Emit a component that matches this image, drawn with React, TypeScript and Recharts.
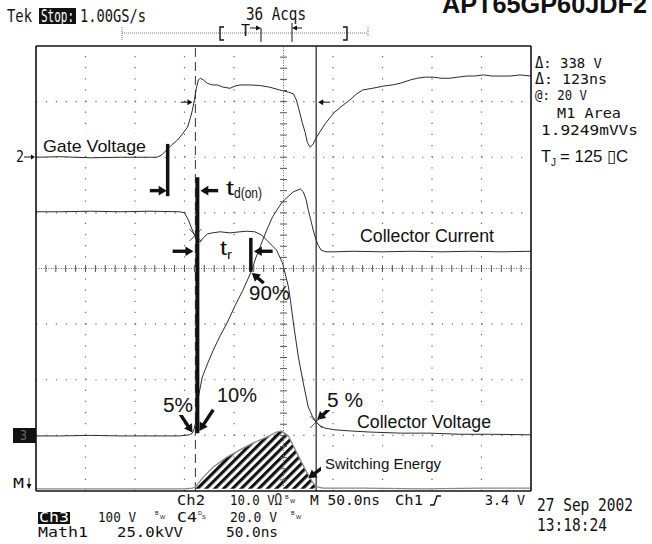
import React from "react";
import {
  ComposedChart,
  Line,
  Area,
  Scatter,
  XAxis,
  YAxis,
  ReferenceLine,
} from "recharts";

// x = time in ns (50 ns/div), y = screen divisions (0 = bottom of graticule)
const gateVoltage = [
  { x: 0, y: 6.0 }, { x: 24, y: 6.01 }, { x: 55, y: 5.99 }, { x: 85, y: 6.0 }, { x: 115, y: 6.0 },
  { x: 122, y: 6.0 }, { x: 127, y: 6.04 }, { x: 132, y: 6.13 }, { x: 137, y: 6.22 }, { x: 143, y: 6.31 },
  { x: 148, y: 6.42 }, { x: 153, y: 6.54 }, { x: 156, y: 6.71 }, { x: 158, y: 6.85 }, { x: 160, y: 7.03 },
  { x: 162, y: 7.24 }, { x: 164, y: 7.39 }, { x: 166, y: 7.42 }, { x: 169, y: 7.39 }, { x: 173, y: 7.33 },
  { x: 178, y: 7.3 }, { x: 183, y: 7.3 }, { x: 189, y: 7.26 }, { x: 196, y: 7.24 }, { x: 201, y: 7.28 },
  { x: 206, y: 7.3 }, { x: 216, y: 7.3 }, { x: 226, y: 7.29 }, { x: 236, y: 7.26 }, { x: 246, y: 7.21 },
  { x: 255, y: 7.17 }, { x: 260, y: 7.14 }, { x: 263, y: 7.03 }, { x: 265, y: 6.9 }, { x: 267, y: 6.76 },
  { x: 269, y: 6.62 }, { x: 272, y: 6.44 }, { x: 274, y: 6.27 }, { x: 277, y: 6.18 }, { x: 280, y: 6.24 },
  { x: 283, y: 6.35 }, { x: 287, y: 6.46 }, { x: 292, y: 6.6 }, { x: 301, y: 6.8 }, { x: 309, y: 6.92 },
  { x: 317, y: 7.03 }, { x: 324, y: 7.14 }, { x: 330, y: 7.21 }, { x: 340, y: 7.24 }, { x: 351, y: 7.28 },
  { x: 360, y: 7.3 }, { x: 368, y: 7.33 }, { x: 378, y: 7.39 }, { x: 385, y: 7.42 }, { x: 393, y: 7.44 },
  { x: 401, y: 7.44 }, { x: 410, y: 7.42 }, { x: 418, y: 7.42 }, { x: 426, y: 7.44 }, { x: 435, y: 7.46 },
  { x: 443, y: 7.46 }, { x: 452, y: 7.48 }, { x: 461, y: 7.46 }, { x: 469, y: 7.46 }, { x: 479, y: 7.46 },
  { x: 489, y: 7.48 }, { x: 500, y: 7.46 },
];

const collectorVoltage = [
  { x: 0, y: 5.02 }, { x: 24, y: 5.02 }, { x: 55, y: 5.03 }, { x: 85, y: 5.02 }, { x: 115, y: 5.03 },
  { x: 145, y: 5.02 }, { x: 150, y: 5.0 }, { x: 154, y: 4.87 }, { x: 157, y: 4.73 }, { x: 160, y: 4.6 },
  { x: 163, y: 4.51 }, { x: 166, y: 4.48 }, { x: 169, y: 4.55 }, { x: 173, y: 4.62 }, { x: 178, y: 4.64 },
  { x: 186, y: 4.66 }, { x: 196, y: 4.64 }, { x: 206, y: 4.66 }, { x: 213, y: 4.67 }, { x: 221, y: 4.66 },
  { x: 228, y: 4.6 }, { x: 233, y: 4.51 }, { x: 238, y: 4.42 }, { x: 243, y: 4.33 }, { x: 249, y: 4.1 },
  { x: 255, y: 3.67 }, { x: 257, y: 3.43 }, { x: 260, y: 3.02 }, { x: 265, y: 2.41 }, { x: 270, y: 1.94 },
  { x: 275, y: 1.51 }, { x: 279, y: 1.35 }, { x: 283, y: 1.24 }, { x: 287, y: 1.17 }, { x: 292, y: 1.13 },
  { x: 302, y: 1.1 }, { x: 317, y: 1.08 }, { x: 337, y: 1.06 }, { x: 368, y: 1.04 }, { x: 398, y: 1.04 },
  { x: 428, y: 1.02 }, { x: 459, y: 1.02 }, { x: 500, y: 1.01 },
];

const collectorCurrent = [
  { x: 0, y: 0.99 }, { x: 24, y: 0.99 }, { x: 55, y: 1.0 }, { x: 85, y: 0.99 }, { x: 115, y: 0.99 },
  { x: 145, y: 0.99 }, { x: 155, y: 1.01 }, { x: 158, y: 1.04 }, { x: 160, y: 1.13 }, { x: 161, y: 1.22 },
  { x: 163, y: 1.46 }, { x: 164, y: 1.69 }, { x: 168, y: 2.05 }, { x: 174, y: 2.32 }, { x: 179, y: 2.53 },
  { x: 186, y: 2.79 }, { x: 193, y: 3.02 }, { x: 201, y: 3.33 }, { x: 209, y: 3.61 }, { x: 214, y: 3.81 },
  { x: 218, y: 3.97 }, { x: 222, y: 4.19 }, { x: 229, y: 4.51 }, { x: 234, y: 4.73 }, { x: 239, y: 4.93 },
  { x: 244, y: 5.07 }, { x: 249, y: 5.2 }, { x: 255, y: 5.3 }, { x: 260, y: 5.38 }, { x: 267, y: 5.43 },
  { x: 270, y: 5.38 }, { x: 273, y: 5.23 }, { x: 275, y: 5.05 }, { x: 278, y: 4.84 }, { x: 280, y: 4.69 },
  { x: 283, y: 4.51 }, { x: 285, y: 4.42 }, { x: 288, y: 4.33 }, { x: 293, y: 4.3 }, { x: 302, y: 4.3 },
  { x: 320, y: 4.31 }, { x: 350, y: 4.3 }, { x: 380, y: 4.31 }, { x: 410, y: 4.3 }, { x: 440, y: 4.31 },
  { x: 470, y: 4.3 }, { x: 500, y: 4.31 },
];

const switchingEnergy = [
  { x: 0, y: 0.04 }, { x: 50, y: 0.04 }, { x: 100, y: 0.04 }, { x: 150, y: 0.04 }, { x: 158, y: 0.05 },
  { x: 161, y: 0.07 }, { x: 163, y: 0.12 }, { x: 169, y: 0.25 }, { x: 179, y: 0.43 }, { x: 193, y: 0.61 },
  { x: 206, y: 0.74 }, { x: 219, y: 0.86 }, { x: 233, y: 0.97 }, { x: 243, y: 1.06 }, { x: 248, y: 1.08 },
  { x: 255, y: 0.99 }, { x: 260, y: 0.81 }, { x: 267, y: 0.56 }, { x: 274, y: 0.32 }, { x: 280, y: 0.14 },
  { x: 283, y: 0.08 }, { x: 290, y: 0.05 }, { x: 330, y: 0.05 }, { x: 390, y: 0.04 }, { x: 450, y: 0.05 },
  { x: 500, y: 0.05 },
];

// area between the two cursors (M1 Area)
const energyHatched = switchingEnergy.filter((p) => p.x >= 161 && p.x <= 283);

const cursorA = 161;
const cursorB = 283;
const crossMarks = [{ x: 161, y: 4.6 }, { x: 283, y: 1.24 }];

const timeTicks = Array.from({ length: 51 }, (_, i) => i * 10);
const divTicks = Array.from({ length: 41 }, (_, i) => Math.round(i * 2) / 10);
const gridX = [50, 100, 150, 200, 300, 350, 400, 450];
const gridY = [1, 2, 3, 5, 6, 7];
const centerRowTicks = timeTicks.map((t) => ({ x: t, y: 4 }));
const centerColTicks = divTicks.map((d) => ({ x: 250, y: d }));

const bars = [
  [{ x: 133, y: 6.24 }, { x: 133, y: 5.3 }],
  [{ x: 163, y: 5.64 }, { x: 163, y: 1.04 }],
  [{ x: 217, y: 4.55 }, { x: 217, y: 3.94 }],
];

const arrows = [
  [{ x: 115, y: 5.4 }, { x: 132, y: 5.4 }],
  [{ x: 184, y: 5.4 }, { x: 166, y: 5.4 }],
  [{ x: 138, y: 4.31 }, { x: 159, y: 4.31 }],
  [{ x: 239, y: 4.31 }, { x: 220, y: 4.31 }],
  [{ x: 230, y: 3.74 }, { x: 218, y: 3.92 }],
  [{ x: 145, y: 1.4 }, { x: 158, y: 1.05 }],
  [{ x: 179, y: 1.46 }, { x: 165, y: 1.08 }],
  [{ x: 296, y: 1.47 }, { x: 284, y: 1.28 }],
  [{ x: 290, y: 0.43 }, { x: 275, y: 0.23 }],
];

const cursorArrows = [
  [{ x: 146, y: 6.99 }, { x: 158, y: 6.99 }],
  [{ x: 297, y: 6.99 }, { x: 285, y: 6.99 }],
];

const ink = "#111";
const trace = "#2b2b2b";

const makeArrow = (w: number, hl: number, hw: number) => (p: any) => {
  const { x1, y1, x2, y2 } = p;
  const dx = x2 - x1;
  const dy = y2 - y1;
  const len = Math.hypot(dx, dy) || 1;
  const ux = dx / len;
  const uy = dy / len;
  const bx = x2 - ux * hl;
  const by = y2 - uy * hl;
  return (
    <g>
      <line x1={x1} y1={y1} x2={bx + ux} y2={by + uy} stroke={ink} strokeWidth={w} />
      <polygon
        points={`${x2},${y2} ${bx - uy * hw},${by + ux * hw} ${bx + uy * hw},${by - ux * hw}`}
        fill={ink}
      />
    </g>
  );
};

const bigArrow = makeArrow(3.4, 8, 4.8);
const smallArrow = makeArrow(1, 5, 3);

const vTick = (p: any) => (
  <line x1={p.cx} y1={p.cy - 3.5} x2={p.cx} y2={p.cy + 3.5} stroke="#555" strokeWidth={1} />
);
const hTick = (p: any) => (
  <line x1={p.cx - 3.5} y1={p.cy} x2={p.cx + 3.5} y2={p.cy} stroke="#555" strokeWidth={1} />
);
const xMark = (p: any) => (
  <g stroke="#333" strokeWidth={0.9}>
    <line x1={p.cx - 6} y1={p.cy - 6} x2={p.cx + 6} y2={p.cy + 6} />
    <line x1={p.cx - 6} y1={p.cy + 6} x2={p.cx + 6} y2={p.cy - 6} />
  </g>
);

const mono = "'DejaVu Sans Mono', monospace";
const sans = "'Liberation Sans', Arial, sans-serif";

const Scope = ({ x, y, w, size = 13.5, k = 1.25, fill = ink, children }: any) => (
  <text
    x={x}
    y={y}
    fontFamily={mono}
    fontSize={size}
    textLength={w}
    lengthAdjust="spacingAndGlyphs"
    fill={fill}
    transform={`translate(0 ${y}) scale(1 ${k}) translate(0 ${-y})`}
  >
    {children}
  </text>
);

const Note = ({ x, y, w, size = 18, children, weight = "normal" }: any) => (
  <text
    x={x}
    y={y}
    fontFamily={sans}
    fontSize={size}
    fontWeight={weight}
    textLength={w}
    lengthAdjust="spacingAndGlyphs"
    fill={ink}
  >
    {children}
  </text>
);

const Tiny = ({ x, y, children }: any) => (
  <text x={x} y={y} fontFamily={sans} fontSize={5.5} fill={ink}>
    {children}
  </text>
);

export default function App() {
  return (
    <div style={{ position: "absolute", left: 0, top: 0, width: 652, height: 544, background: "#fff" }}>
      <ComposedChart width={652} height={544} margin={{ top: 46, right: 121, bottom: 53, left: 36 }}>
        <XAxis
          type="number"
          dataKey="x"
          domain={[0, 500]}
          ticks={timeTicks}
          interval={0}
          tick={false}
          tickSize={4}
          mirror
          allowDataOverflow
          axisLine={{ stroke: ink, strokeWidth: 1.6 }}
          tickLine={{ stroke: "#555" }}
        />
        <XAxis
          xAxisId="top"
          orientation="top"
          type="number"
          dataKey="x"
          domain={[0, 500]}
          ticks={timeTicks}
          interval={0}
          tick={false}
          tickSize={4}
          mirror
          allowDataOverflow
          axisLine={{ stroke: ink, strokeWidth: 1.6 }}
          tickLine={{ stroke: "#555" }}
        />
        <YAxis
          type="number"
          dataKey="y"
          domain={[0, 8]}
          ticks={divTicks}
          interval={0}
          tick={false}
          tickSize={4}
          mirror
          allowDataOverflow
          axisLine={{ stroke: ink, strokeWidth: 1.6 }}
          tickLine={{ stroke: "#555" }}
        />
        <YAxis
          yAxisId="right"
          orientation="right"
          type="number"
          dataKey="y"
          domain={[0, 8]}
          ticks={divTicks}
          interval={0}
          tick={false}
          tickSize={4}
          mirror
          allowDataOverflow
          axisLine={{ stroke: ink, strokeWidth: 1.6 }}
          tickLine={{ stroke: "#555" }}
        />

        {gridX.map((v) => (
          <ReferenceLine key={`gx${v}`} x={v} stroke="#666" strokeWidth={1.2} strokeDasharray="1.2 9.925" />
        ))}
        {gridY.map((v) => (
          <ReferenceLine key={`gy${v}`} y={v} stroke="#666" strokeWidth={1.2} strokeDasharray="1.2 8.7" />
        ))}
        <ReferenceLine x={250} stroke="#666" strokeDasharray="1 1.5" />
        <ReferenceLine y={4} stroke="#666" strokeDasharray="1 1.5" />
        <Scatter data={centerRowTicks} shape={vTick} isAnimationActive={false} />
        <Scatter data={centerColTicks} shape={hTick} isAnimationActive={false} />

        <ReferenceLine x={cursorA} stroke="#333" strokeWidth={1} strokeDasharray="9 5" />
        <ReferenceLine x={cursorB} stroke="#222" strokeWidth={1.2} />

        <Area
          data={energyHatched}
          dataKey="y"
          type="linear"
          stroke="none"
          fill="url(#hatch)"
          fillOpacity={1}
          baseValue={0.04}
          isAnimationActive={false}
        />
        <Line data={switchingEnergy} dataKey="y" type="linear" dot={false} stroke="#888" strokeWidth={1.3} isAnimationActive={false} />
        <Line data={gateVoltage} dataKey="y" type="linear" dot={false} stroke={trace} strokeWidth={1} isAnimationActive={false} />
        <Line data={collectorVoltage} dataKey="y" type="linear" dot={false} stroke={trace} strokeWidth={1} isAnimationActive={false} />
        <Line data={collectorCurrent} dataKey="y" type="linear" dot={false} stroke={trace} strokeWidth={1} isAnimationActive={false} />

        <Scatter data={crossMarks} shape={xMark} isAnimationActive={false} />

        {bars.map((seg, i) => (
          <ReferenceLine key={`bar${i}`} segment={seg} stroke={ink} strokeWidth={i === 1 ? 4 : 3.5} />
        ))}
        {arrows.map((seg, i) => (
          <ReferenceLine key={`arr${i}`} segment={seg} shape={bigArrow} />
        ))}
        {cursorArrows.map((seg, i) => (
          <ReferenceLine key={`carr${i}`} segment={seg} shape={smallArrow} />
        ))}
      </ComposedChart>

      <svg width={652} height={544} style={{ position: "absolute", left: 0, top: 0, pointerEvents: "none" }}>
        <defs>
          <pattern id="hatch" patternUnits="userSpaceOnUse" width="6.2" height="6.2" patternTransform="rotate(45)">
            <rect x="0" y="0" width="3.1" height="6.2" fill="#111" />
          </pattern>
        </defs>

        {/* header */}
        <Note x={442} y={13} w={205} size={25} weight="bold">APT65GP60JDF2</Note>
        <Scope x={7} y={22} w={25}>Tek</Scope>
        <rect x={39} y={8} width={37} height={16} fill={ink} />
        <Scope x={41} y={22} w={33} fill="#fff">Stop:</Scope>
        <Scope x={80} y={22} w={66}>1.00GS/s</Scope>
        <Scope x={246} y={20} w={60}>36 Acqs</Scope>

        {/* trigger position bar */}
        <line x1={122} y1={33} x2={368} y2={33} stroke="#777" strokeDasharray="1 1" />
        <line x1={122} y1={27} x2={122} y2={40} stroke="#777" strokeDasharray="1 1" />
        <line x1={368} y1={27} x2={368} y2={37} stroke="#777" strokeDasharray="1 1" />
        <path d="M224 27 H220 V40 H224" fill="none" stroke={ink} strokeWidth={1.4} />
        <path d="M343 27 H347 V40 H343" fill="none" stroke={ink} strokeWidth={1.4} />
        <Scope x={241} y={36} w={9} size={12}>T</Scope>
        <line x1={250} y1={28} x2={259} y2={28} stroke={ink} strokeWidth={1} />
        <path d="M261 28 L256 25.5 L256 30.5 Z" fill={ink} />
        <line x1={261} y1={28} x2={261} y2={42} stroke={ink} strokeWidth={1} />
        <line x1={294} y1={28} x2={302} y2={28} stroke={ink} strokeWidth={1} />
        <path d="M292 28 L297 25.5 L297 30.5 Z" fill={ink} />
        <line x1={292} y1={23} x2={292} y2={42} stroke={ink} strokeWidth={1} />

        {/* readouts */}
        <Scope x={535} y={68} w={67} size={13} k={1.15}>Δ: 338 V</Scope>
        <Scope x={535} y={84} w={72} size={13} k={1.15}>Δ: 123ns</Scope>
        <Scope x={535} y={100} w={52} size={13} k={1.15}>@: 20 V</Scope>
        <Scope x={557} y={118} w={64} size={13} k={1.15}>M1 Area</Scope>
        <Scope x={541} y={135} w={97} size={13} k={1.15}>1.9249mVVs</Scope>
        <Note x={541} y={162} w={10} size={17}>T</Note>
        <Note x={551} y={166} w={5} size={10}>J</Note>
        <Note x={560} y={162} w={68} size={17}>= 125 ▯C</Note>

        {/* channel markers */}
        <Scope x={16} y={162} w={8} size={12}>2</Scope>
        <line x1={24} y1={157} x2={32} y2={157} stroke={ink} strokeWidth={1} />
        <path d="M35 157 L31 154.5 L31 159.5 Z" fill={ink} />
        <rect x={13} y={428} width={23} height={15} fill={ink} />
        <Scope x={20} y={440} w={7} size={11} fill="#666">3</Scope>
        <Scope x={13} y={488} w={11} size={11}>M</Scope>
        <line x1={29} y1={478} x2={29} y2={485} stroke={ink} strokeWidth={1} />
        <path d="M29 489 L26.5 484 L31.5 484 Z" fill={ink} />

        {/* footer */}
        <Scope x={177} y={505} w={28} size={13} k={1.15}>Ch2</Scope>
        <Scope x={230} y={505} w={52} size={13} k={1.15}>10.0 VΩ</Scope>
        <Tiny x={285} y={499}>B</Tiny>
        <Tiny x={290} y={503}>W</Tiny>
        <Scope x={310} y={505} w={70} size={13} k={1.15}>M 50.0ns</Scope>
        <Scope x={395} y={505} w={28} size={13} k={1.15}>Ch1</Scope>
        <path d="M430 505 H434 L437 496 H441" fill="none" stroke={ink} strokeWidth={1.4} />
        <Scope x={485} y={505} w={40} size={13} k={1.15}>3.4 V</Scope>
        <Scope x={537} y={511} w={96} size={14}>27 Sep 2002</Scope>
        <Scope x={537} y={531} w={70} size={14}>13:18:24</Scope>

        <rect x={38} y={512} width={32} height={12} fill={ink} />
        <Scope x={39} y={522} w={30} size={12} k={1.1} fill="#fff">Ch3</Scope>
        <Scope x={98} y={522} w={38} size={13} k={1.1}>100 V</Scope>
        <Tiny x={155} y={515}>B</Tiny>
        <Tiny x={160} y={519}>W</Tiny>
        <Scope x={177} y={522} w={20} size={13} k={1.1}>C4</Scope>
        <Tiny x={198} y={515}>D</Tiny>
        <Tiny x={202} y={519}>S</Tiny>
        <Scope x={230} y={522} w={47} size={13} k={1.1}>20.0 V</Scope>
        <Tiny x={291} y={515}>B</Tiny>
        <Tiny x={296} y={519}>W</Tiny>
        <Scope x={38} y={537} w={50} size={13} k={1.1}>Math1</Scope>
        <Scope x={117} y={537} w={66} size={13} k={1.1}>25.0kVV</Scope>
        <Scope x={226} y={537} w={52} size={13} k={1.1}>50.0ns</Scope>

        {/* annotations */}
        <rect x={40} y={134} width={110} height={20} fill="#fff" />
        <Note x={43} y={152} w={103} size={17}>Gate Voltage</Note>
        <rect x={221} y={176} width={45} height={28} fill="#fff" />
        <Note x={226} y={195} w={8} size={21}>t</Note>
        <Note x={234} y={198} w={28} size={15}>d(on)</Note>
        <rect x={213} y={238} width={23} height={24} fill="#fff" />
        <Note x={220} y={255} w={7} size={21}>t</Note>
        <Note x={227} y={259} w={5} size={12}>r</Note>
        <rect x={355} y={224} width={150} height={22} fill="#fff" />
        <Note x={360} y={242} w={134} size={18}>Collector Current</Note>
        <Note x={249} y={300} w={41} size={20}>90%</Note>
        <rect x={214} y={383} width={46} height={22} fill="#fff" />
        <Note x={217} y={402} w={40} size={20}>10%</Note>
        <rect x={160} y={394} width={32} height={21} fill="#fff" />
        <Note x={163} y={412} w={30} size={20}>5%</Note>
        <rect x={325} y={390} width={40} height={20} fill="#fff" />
        <Note x={327} y={407} w={36} size={20}>5 %</Note>
        <rect x={352} y={411} width={160} height={19} fill="#fff" />
        <Note x={357} y={428} w={134} size={18}>Collector Voltage</Note>
        <rect x={321} y={455} width={130} height={18} fill="#fff" />
        <Note x={325} y={469} w={116} size={15}>Switching Energy</Note>
      </svg>
    </div>
  );
}
